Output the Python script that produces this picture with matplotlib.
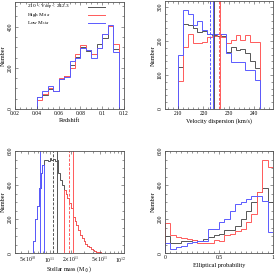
import matplotlib
matplotlib.use('Agg')

import matplotlib.pyplot as plt
from matplotlib.ticker import MultipleLocator, FixedLocator, NullFormatter
import numpy as np

plt.rcParams['font.family'] = ['Liberation Serif', 'DejaVu Serif']
plt.rcParams['mathtext.fontset'] = 'stix'

GRAY = '#555555'
RED = '#ff5a5a'
BLUE = '#5a5aff'

# redshift, bins of 0.005 from 0.02 to 0.115
z_edges = np.linspace(0.02, 0.115, 20)
z_all = [0, 0, 0, 0, 60, 68, 97, 87, 146, 160, 214, 251, 303, 283, 266, 316, 347, 403, 291]
z_high = [0, 0, 0, 0, 44, 71, 100, 87, 152, 162, 198, 266, 311, 287, 266, 295, 363, 405, 314]
z_low = [0, 0, 0, 0, 60, 89, 110, 87, 146, 154, 235, 246, 295, 287, 246, 298, 366, 408, 279]

# velocity dispersion, 17 bins between 210 and 242.3 km/s
v_edges = np.linspace(210, 242.3, 18)
v_all = [124, 249, 247, 238, 228, 230, 222, 218, 215, 215, 168, 183, 174, 178, 164, 140, 122]
v_high = [82, 183, 222, 195, 195, 198, 213, 215, 222, 213, 193, 203, 218, 203, 218, 198, 198]
v_low = [159, 291, 281, 247, 260, 232, 222, 220, 222, 220, 164, 139, 139, 139, 115, 115, 85]
v_lines = [(222.6, BLUE, '--'), (223.7, BLUE, '-'), (224.3, GRAY, '-'),
           (226.3, RED, '--'), (226.5, RED, '-')]

# stellar mass, bins of 0.025 dex in log M from 10.5 to 12.05
logm_edges = np.linspace(10.5, 12.05, 63)
m_all = [0, 0, 0, 0, 0, 0, 0, 0, 0, 0, 0,
         70, 200, 280, 385, 470, 520,
         545, 550, 540, 560, 545, 555, 540, 545, 470, 430, 400,
         370, 350, 322, 295, 265, 215, 192, 165, 138, 110, 90, 72, 55, 45,
         35, 25, 20, 14, 10, 8, 6, 4, 4, 3, 2, 2, 1, 1, 0, 0, 0, 0, 0, 0]
m_low_cut = 17   # first bin not in the low-mass third
m_high_cut = 28  # first bin in the high-mass third
m_lines = [(10 ** 10.867, BLUE, '-'), (10 ** 11.053, GRAY, '--'), (10 ** 11.109, GRAY, '-'),
           (10 ** 11.277, RED, '--'), (10 ** 11.324, RED, '-')]
m_ticks = [5e10, 1e11, 2e11, 5e11, 1e12]
m_ticklabels = [r'5$\times$10$^{10}$', r'10$^{11}$', r'2$\times$10$^{11}$',
                r'5$\times$10$^{11}$', r'10$^{12}$']

# elliptical probability, bins of 0.05
p_edges = np.linspace(0, 1, 21)
p_all = [100, 62, 62, 70, 75, 80, 75, 85, 97, 105, 116, 134, 134, 162, 199, 246, 300, 360, 383, 300]
p_high = [176, 108, 95, 88, 82, 80, 62, 62, 62, 78, 75, 105, 115, 130, 140, 181, 228, 360, 550, 507]
p_low = [62, 25, 35, 42, 60, 68, 70, 70, 143, 143, 186, 199, 246, 290, 299, 317, 336, 336, 308, 125]


def style(ax, xlabel, pad=1.5):
    ax.tick_params(which='both', direction='in', top=True, right=True,
                   labelsize=4, pad=1.5, width=0.4, color='#444444')
    ax.tick_params(which='major', length=2.5)
    ax.tick_params(which='minor', length=1.3)
    for lab in ax.get_yticklabels():
        lab.set_rotation(90)
        lab.set_va('center')
    for s in ax.spines.values():
        s.set_linewidth(0.6)
        s.set_color('#555555')
    if xlabel:
        ax.set_xlabel(xlabel, fontsize=4.5, labelpad=pad)
    ax.set_ylabel('Number', fontsize=4.5, labelpad=1.5)


fig = plt.figure(figsize=(2.75, 2.76), dpi=100)
lw = 0.7

# redshift
ax1 = fig.add_axes([0.0545, 0.605, 0.3965, 0.388])
ax1.stairs(z_all, z_edges, color=GRAY, lw=lw)
ax1.stairs(z_high, z_edges, color=RED, lw=lw)
ax1.stairs(z_low, z_edges, color=BLUE, lw=lw)
ax1.set_xlim(0.02, 0.12)
ax1.set_ylim(0, 520)
ax1.xaxis.set_major_locator(FixedLocator([0.02, 0.04, 0.06, 0.08, 0.1, 0.12]))
ax1.set_xticklabels(['0.02', '0.04', '0.06', '0.08', '0.1', '0.12'])
ax1.xaxis.set_minor_locator(MultipleLocator(0.005))
ax1.yaxis.set_major_locator(MultipleLocator(200))
ax1.yaxis.set_minor_locator(MultipleLocator(50))
style(ax1, 'Redshift')
labels = [r'210 < V$_{\rm disp}$ < 242.3', r'High M$_{\rm star}$', r'Low M$_{\rm star}$']
for i, (txt, c) in enumerate(zip(labels, [GRAY, RED, BLUE])):
    y = 0.953 - i * 0.076
    ax1.text(0.11, y, txt, transform=ax1.transAxes, fontsize=3.8, va='center')
    ax1.plot([0.67, 0.83], [y, y], transform=ax1.transAxes, color=c, lw=lw)

# velocity dispersion
ax2 = fig.add_axes([0.6, 0.605, 0.393, 0.39])
ax2.stairs(v_all, v_edges, color=GRAY, lw=lw)
ax2.stairs(v_high, v_edges, color=RED, lw=lw)
ax2.stairs(v_low, v_edges, color=BLUE, lw=lw)
for x, c, ls in v_lines:
    ax2.axvline(x, color=c, ls=ls, lw=lw, dashes=(3, 1.5) if ls == '--' else (None, None))
ax2.set_xlim(204.7, 247.7)
ax2.set_ylim(0, 317)
ax2.xaxis.set_major_locator(MultipleLocator(10))
ax2.xaxis.set_minor_locator(MultipleLocator(2))
ax2.yaxis.set_major_locator(MultipleLocator(100))
ax2.yaxis.set_minor_locator(MultipleLocator(20))
style(ax2, 'Velocity dispersion (km/s)')

# stellar mass
m_edges = 10 ** logm_edges
m_low = [v if i < m_low_cut else 0 for i, v in enumerate(m_all)]
m_high = [v if i >= m_high_cut else 0 for i, v in enumerate(m_all)]
ax3 = fig.add_axes([0.0545, 0.082, 0.3965, 0.371])
ax3.stairs(m_all, m_edges, color=GRAY, lw=lw)
ax3.stairs(m_high, m_edges, color=RED, lw=lw)
ax3.stairs(m_low, m_edges, color=BLUE, lw=lw)
for x, c, ls in m_lines:
    ax3.axvline(x, color=c, ls=ls, lw=lw, dashes=(3, 1.5) if ls == '--' else (None, None))
ax3.set_xscale('log')
ax3.set_xlim(10 ** 10.518, 10 ** 12.04)
ax3.set_ylim(0, 600)
ax3.xaxis.set_major_locator(FixedLocator(m_ticks))
ax3.set_xticklabels(m_ticklabels)
ax3.xaxis.set_minor_formatter(NullFormatter())
ax3.yaxis.set_major_locator(MultipleLocator(200))
ax3.yaxis.set_minor_locator(MultipleLocator(50))
style(ax3, None)
ax3.tick_params(axis='x', pad=1)
fig.text(0.0545 + 0.3965 / 2, 0.006, r'Stellar mass (M$_\odot$)', fontsize=4.3,
         ha='center', va='bottom')

# elliptical probability
ax4 = fig.add_axes([0.6, 0.082, 0.393, 0.371])
ax4.stairs(p_all, p_edges, color=GRAY, lw=lw)
ax4.stairs(p_high, p_edges, color=RED, lw=lw)
ax4.stairs(p_low, p_edges, color=BLUE, lw=lw)
ax4.set_xlim(0, 1)
ax4.set_ylim(0, 600)
ax4.xaxis.set_major_locator(FixedLocator([0, 0.5, 1]))
ax4.set_xticklabels(['0', '0.5', '1'])
ax4.xaxis.set_minor_locator(MultipleLocator(0.05))
ax4.yaxis.set_major_locator(MultipleLocator(200))
ax4.yaxis.set_minor_locator(MultipleLocator(50))
style(ax4, 'Elliptical probability')

fig.savefig('out.png', dpi=100)
plt.close(fig)
